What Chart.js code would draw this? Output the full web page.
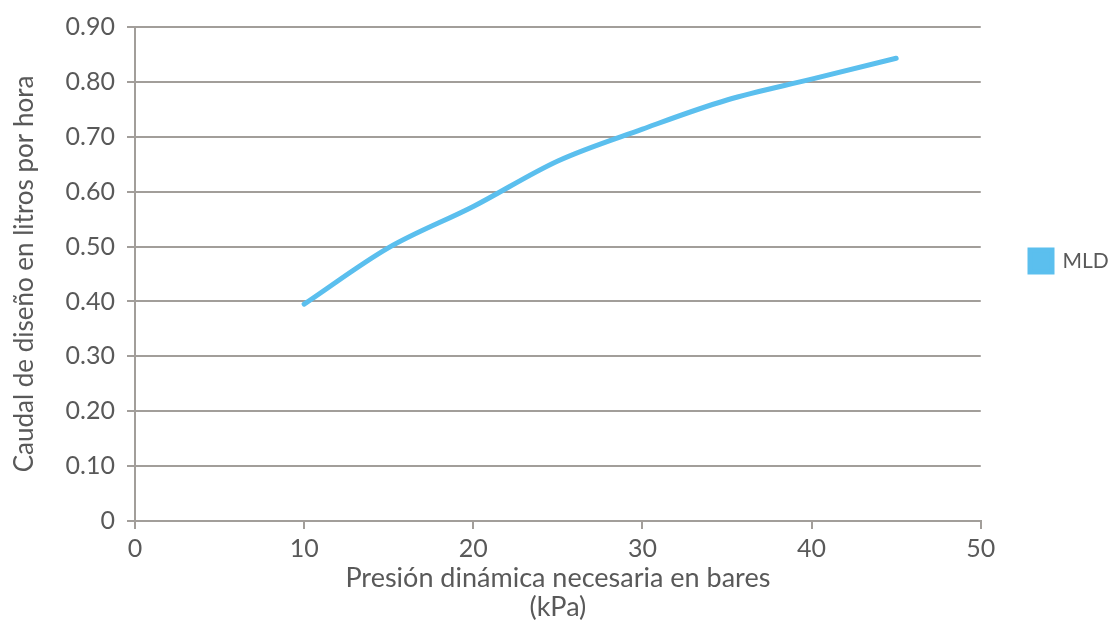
<!DOCTYPE html>
<html>
<head>
<meta charset="utf-8">
<script src="https://cdn.jsdelivr.net/npm/chart.js@4"></script>
<style>
html,body{margin:0;padding:0;background:#fff;}
#wrap{width:1115px;height:621px;}
</style>
</head>
<body>
<div id="wrap"><canvas id="c" width="1115" height="621"></canvas></div>
<script>
const seriesName = "MLD";
const pressure = [10, 15, 20, 25, 30, 35, 40, 45];
const flow = [0.395, 0.498, 0.573, 0.656, 0.714, 0.767, 0.805, 0.843];
const xTicks = [0, 10, 20, 30, 40, 50];
const yTicks = [0, 0.1, 0.2, 0.3, 0.4, 0.5, 0.6, 0.7, 0.8, 0.9];
const xTitle = ["Presión dinámica necesaria en bares", "(kPa)"];
const yTitle = "Caudal de diseño en litros por hora";

const FONT = "Lato";
const TXT = "#595959";
const GRID = "#a29e9a";
const LINE = "#5bbfee";

// place the legend where the reference has it
const legendPlacer = {
  id: 'legendPlacer',
  afterLayout(chart) {
    const L = chart.legend;
    if (!L) return;
    const w = L.right - L.left;
    L.left = 1018; L.right = 1018 + w;
    const dy = -62;
    L.top += dy; L.bottom += dy;
  }
};

new Chart(document.getElementById('c'), {
  type: 'line',
  data: {
    datasets: [{
      label: seriesName,
      data: pressure.map((x, i) => ({x: x, y: flow[i]})),
      borderColor: LINE,
      backgroundColor: LINE,
      borderWidth: 5,
      pointRadius: 0,
      tension: 0.4,
      cubicInterpolationMode: 'monotone',
      borderCapStyle: 'round'
    }]
  },
  plugins: [legendPlacer],
  options: {
    responsive: false,
    animation: false,
    layout: {padding: {top: 25, left: 0, right: 33.5, bottom: 0}},
    plugins: {
      legend: {
        position: 'right',
        labels: {
          boxWidth: 22, boxHeight: 22, padding: 12,
          color: TXT, font: {family: FONT, size: 21}
        }
      },
      tooltip: {enabled: false}
    },
    scales: {
      x: {
        type: 'linear', min: 0, max: 50,
        afterBuildTicks: s => { s.ticks = xTicks.map(v => ({value: v})); },
        afterFit: s => { s.height = 100; },
        grid: {display: true, drawOnChartArea: false, drawTicks: true, tickLength: 8, color: GRID, lineWidth: 2},
        border: {display: true, color: GRID, width: 2},
        ticks: {color: TXT, font: {family: FONT, size: 25}, padding: 5, maxRotation: 0},
        title: {display: true, text: xTitle, color: TXT, font: {family: FONT, size: 27, lineHeight: 1.07}, padding: {top: 0, bottom: -1}}
      },
      y: {
        type: 'linear', min: 0, max: 0.9,
        afterBuildTicks: s => { s.ticks = yTicks.map(v => ({value: v})); },
        afterFit: s => { s.width = 135; },
        grid: {color: GRID, lineWidth: 2, tickLength: 8},
        border: {display: true, color: GRID, width: 2},
        ticks: {color: TXT, font: {family: FONT, size: 25}, padding: 12,
          callback: v => v === 0 ? "0" : v.toFixed(2)},
        title: {display: true, text: yTitle, color: TXT, font: {family: FONT, size: 26}, padding: {top: 9, bottom: 4}}
      }
    }
  }
});
</script>
</body>
</html>
